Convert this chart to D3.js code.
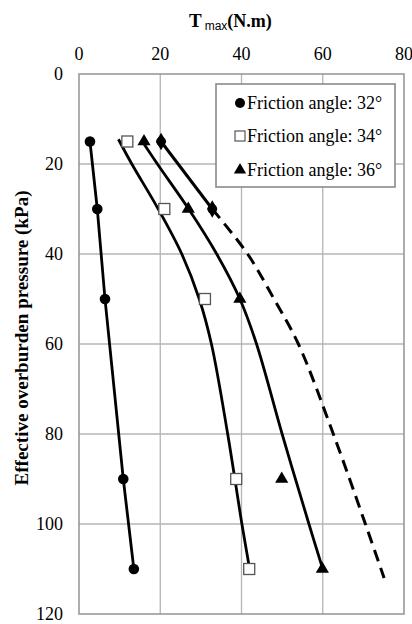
<!DOCTYPE html>
<html>
<head>
<meta charset="utf-8">
<script src="https://cdn.jsdelivr.net/npm/d3@7/dist/d3.min.js"></script>
<style>
  html, body { margin: 0; padding: 0; background: #fff; }
  svg { display: block; }
  svg text { font-family: "Liberation Serif", "DejaVu Serif", serif; }
  svg text .sans { font-family: "Liberation Sans", "DejaVu Sans", sans-serif; }
</style>
</head>
<body>
<svg id="chart" width="412" height="624"></svg>
<script>
// ---- data ----
const xTicks = [0, 20, 40, 60, 80];
const yTicks = [0, 20, 40, 60, 80, 100, 120];
const legendLabels = ["Friction angle: 32°", "Friction angle: 34°", "Friction angle: 36°"];

const pressure = [15, 30, 50, 90, 110];
const t32 = [2.7, 4.5, 6.4, 10.9, 13.5];
const t34 = [11.9, 21, 31, 38.7, 41.9];
const t36 = [16, 26.9, 39.6, 49.9, 59.9];

// extra black markers (upper series)
const extraP = [15, 30];
const extraT = [20.2, 32.8];

// trend curves
const fit34P = [14.5, 20, 30, 40, 50, 60, 80, 100, 110];
const fit34T = [9.7, 13, 19.5, 25.3, 29.6, 32.6, 36.6, 40.1, 42];
const fit36P = [15, 20, 30, 40, 50, 60, 80, 100, 110];
const fit36T = [15.6, 19.3, 27.0, 33.9, 39.6, 43.7, 50, 56.6, 60];
const dashP = [30, 40, 50, 60, 80, 100, 112];
const dashT = [32.8, 41.5, 48, 54, 62.6, 70.5, 75.1];

// ---- drawing ----
const svg = d3.select("#chart");
const x = d3.scaleLinear().domain([0, 80]).range([79, 404]);
const y = d3.scaleLinear().domain([0, 120]).range([74, 614]);

const zip = (ts, ps) => ts.map((t, i) => [t, ps[i]]);

// grid
const grid = svg.append("g");
grid.selectAll("line.v").data(xTicks.slice(1, -1)).join("line")
  .attr("x1", d => x(d)).attr("x2", d => x(d))
  .attr("y1", y(0)).attr("y2", y(120))
  .attr("stroke", "#b4b4b4").attr("stroke-width", 1.3);
grid.selectAll("line.h").data(yTicks.slice(1, -1)).join("line")
  .attr("x1", x(0)).attr("x2", x(80))
  .attr("y1", d => y(d)).attr("y2", d => y(d))
  .attr("stroke", "#b4b4b4").attr("stroke-width", 1.3);
svg.append("rect")
  .attr("x", x(0)).attr("y", y(0))
  .attr("width", x(80) - x(0)).attr("height", y(120) - y(0))
  .attr("fill", "none").attr("stroke", "#999").attr("stroke-width", 1.6);

// top axis labels
svg.append("g").selectAll("text").data(xTicks).join("text")
  .attr("x", d => x(d)).attr("y", 60)
  .attr("text-anchor", "middle")
  .attr("font-size", 18)
  .text(d => d);

// left axis labels
svg.append("g").selectAll("text").data(yTicks).join("text")
  .attr("x", 63).attr("y", d => y(d)).attr("dy", "0.35em")
  .attr("text-anchor", "end")
  .attr("font-size", 18)
  .text(d => d);

// title
const title = svg.append("text").attr("x", 189).attr("y", 27);
title.append("tspan").attr("font-weight", "bold").attr("font-size", 19).text("T");
title.append("tspan").attr("class", "sans")
  .attr("font-size", 12).attr("dx", 3).attr("dy", 3).text("max");
title.append("tspan").attr("font-weight", "bold").attr("font-size", 18).attr("dy", -3).text("(N.m)");

// y axis title
svg.append("text")
  .attr("transform", "translate(28,338) rotate(-90)")
  .attr("text-anchor", "middle")
  .attr("font-weight", "bold").attr("font-size", 19)
  .attr("textLength", 295).attr("lengthAdjust", "spacingAndGlyphs")
  .text("Effective overburden pressure (kPa)");

// lines
const line = d3.line().x(d => x(d[0])).y(d => y(d[1]));
const smooth = d3.line().x(d => x(d[0])).y(d => y(d[1])).curve(d3.curveCatmullRom.alpha(0.5));

svg.append("path").attr("d", line(zip(t32, pressure)))
  .attr("fill", "none").attr("stroke", "#000").attr("stroke-width", 2.8);
svg.append("path").attr("d", smooth(zip(fit34T, fit34P)))
  .attr("fill", "none").attr("stroke", "#000").attr("stroke-width", 2.8);
svg.append("path").attr("d", smooth(zip(fit36T, fit36P)))
  .attr("fill", "none").attr("stroke", "#000").attr("stroke-width", 2.8);
svg.append("path").attr("d", line(zip(extraT, extraP)))
  .attr("fill", "none").attr("stroke", "#000").attr("stroke-width", 3);
svg.append("path").attr("d", smooth(zip(dashT, dashP)))
  .attr("fill", "none").attr("stroke", "#000").attr("stroke-width", 3)
  .attr("stroke-dasharray", "12,7");

// markers
svg.append("g").selectAll("circle").data(zip(t32, pressure)).join("circle")
  .attr("cx", d => x(d[0])).attr("cy", d => y(d[1])).attr("r", 5.3).attr("fill", "#000");
svg.append("g").selectAll("rect").data(zip(t34, pressure)).join("rect")
  .attr("x", d => x(d[0]) - 5.5).attr("y", d => y(d[1]) - 5.5)
  .attr("width", 11).attr("height", 11)
  .attr("fill", "#fff").attr("stroke", "#555").attr("stroke-width", 1.3);
const tri = d3.symbol().type(d3.symbolTriangle).size(75);
svg.append("g").selectAll("path").data(zip(t36, pressure)).join("path")
  .attr("transform", d => `translate(${x(d[0])},${y(d[1])})`)
  .attr("d", tri).attr("fill", "#000");
const dia = d3.symbol().type(d3.symbolDiamond).size(90);
svg.append("g").selectAll("path").data(zip(extraT, extraP)).join("path")
  .attr("transform", d => `translate(${x(d[0])},${y(d[1])})`)
  .attr("d", dia).attr("fill", "#000");
svg.append("g").selectAll("circle").data(zip(extraT, extraP)).join("circle")
  .attr("cx", d => x(d[0])).attr("cy", d => y(d[1])).attr("r", 4.8).attr("fill", "#000");

// legend
const lg = svg.append("g");
lg.append("rect").attr("x", 216).attr("y", 84).attr("width", 179).attr("height", 103)
  .attr("fill", "#fff").attr("stroke", "#8a8a8a").attr("stroke-width", 1.6);
const rowY = [103, 136, 170];
lg.selectAll("text").data(legendLabels).join("text")
  .attr("x", 247).attr("y", (d, i) => rowY[i]).attr("dy", "0.35em")
  .attr("font-size", 18)
  .text(d => d);
lg.append("circle").attr("cx", 240).attr("cy", rowY[0]).attr("r", 5).attr("fill", "#000");
lg.append("rect").attr("x", 235).attr("y", rowY[1] - 5).attr("width", 10).attr("height", 10)
  .attr("fill", "#fff").attr("stroke", "#555").attr("stroke-width", 1.2);
lg.append("path").attr("transform", `translate(240,${rowY[2]})`)
  .attr("d", d3.symbol().type(d3.symbolTriangle).size(65)).attr("fill", "#000");
</script>
</body>
</html>
